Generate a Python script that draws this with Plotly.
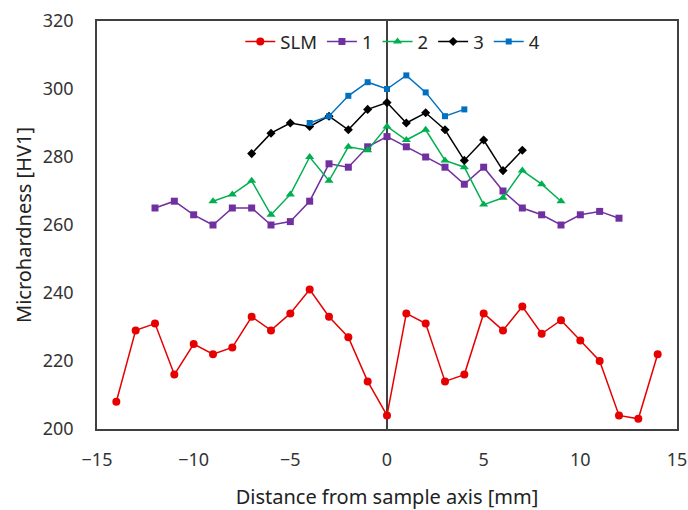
import plotly.graph_objects as go

x_slm = list(range(-14, 15))
y_slm = [208, 229, 231, 216, 225, 222, 224, 233, 229, 234, 241, 233, 227, 214, 204,
         234, 231, 214, 216, 234, 229, 236, 228, 232, 226, 220, 204, 203, 222]

x_1 = list(range(-12, 13))
y_1 = [265, 267, 263, 260, 265, 265, 260, 261, 267, 278, 277, 283, 286,
       283, 280, 277, 272, 277, 270, 265, 263, 260, 263, 264, 262]

x_2 = list(range(-9, 10))
y_2 = [267, 269, 273, 263, 269, 280, 273, 283, 282, 289,
       285, 288, 279, 277, 266, 268, 276, 272, 267]

x_3 = list(range(-7, 8))
y_3 = [281, 287, 290, 289, 292, 288, 294, 296, 290, 293, 288, 279, 285, 276, 282]

x_4 = list(range(-4, 5))
y_4 = [290, 292, 298, 302, 300, 304, 299, 292, 294]

x_ticks = [-15, -10, -5, 0, 5, 10, 15]
y_ticks = [200, 220, 240, 260, 280, 300, 320]

series = [
    ("SLM", x_slm, y_slm, "#E60000", "circle", 8),
    ("1", x_1, y_1, "#7030A0", "square", 7),
    ("2", x_2, y_2, "#00B050", "triangle-up", 8),
    ("3", x_3, y_3, "#000000", "diamond", 7),
    ("4", x_4, y_4, "#0070C0", "square", 6),
]

fig = go.Figure()
for name, xs, ys, col, sym, sz in series:
    fig.add_trace(go.Scatter(
        x=xs, y=ys, name=name, mode="lines+markers",
        line=dict(color=col, width=1.5),
        marker=dict(color=col, symbol=sym, size=sz, line=dict(width=0)),
    ))

font_family = "Noto Sans, Open Sans, sans-serif"
fig.update_layout(
    width=688, height=510,
    margin=dict(l=97, r=11, t=21, b=81),
    paper_bgcolor="white", plot_bgcolor="white",
    font=dict(family=font_family, size=18, color="#333333"),
    showlegend=True,
    legend=dict(orientation="h", x=0.51, xanchor="center", y=0.995, yanchor="top",
                bgcolor="rgba(0,0,0,0)", font=dict(size=18.5, color="#262626"),
                itemwidth=30, tracegroupgap=0),
)
fig.update_xaxes(
    range=[-15, 15], tickvals=x_ticks, showgrid=False, automargin=False,
    zeroline=True, zerolinecolor="#404040", zerolinewidth=1.5,
    showline=True, mirror=True, linecolor="#404040", linewidth=1.5,
    ticks="", ticklabelstandoff=14,
    tickfont=dict(size=18, color="#333333"),
    title=dict(text="Distance from sample axis [mm]", standoff=20,
               font=dict(size=20, color="#222222")),
)
fig.update_yaxes(
    range=[200, 320], tickvals=y_ticks, showgrid=False, zeroline=False, automargin=False,
    showline=True, mirror=True, linecolor="#404040", linewidth=1.5,
    ticks="", ticklabelstandoff=18,
    tickfont=dict(size=18, color="#333333"),
    title=dict(text="Microhardness [HV1]", standoff=6,
               font=dict(size=20, color="#222222")),
)

fig.write_html("out.html")
